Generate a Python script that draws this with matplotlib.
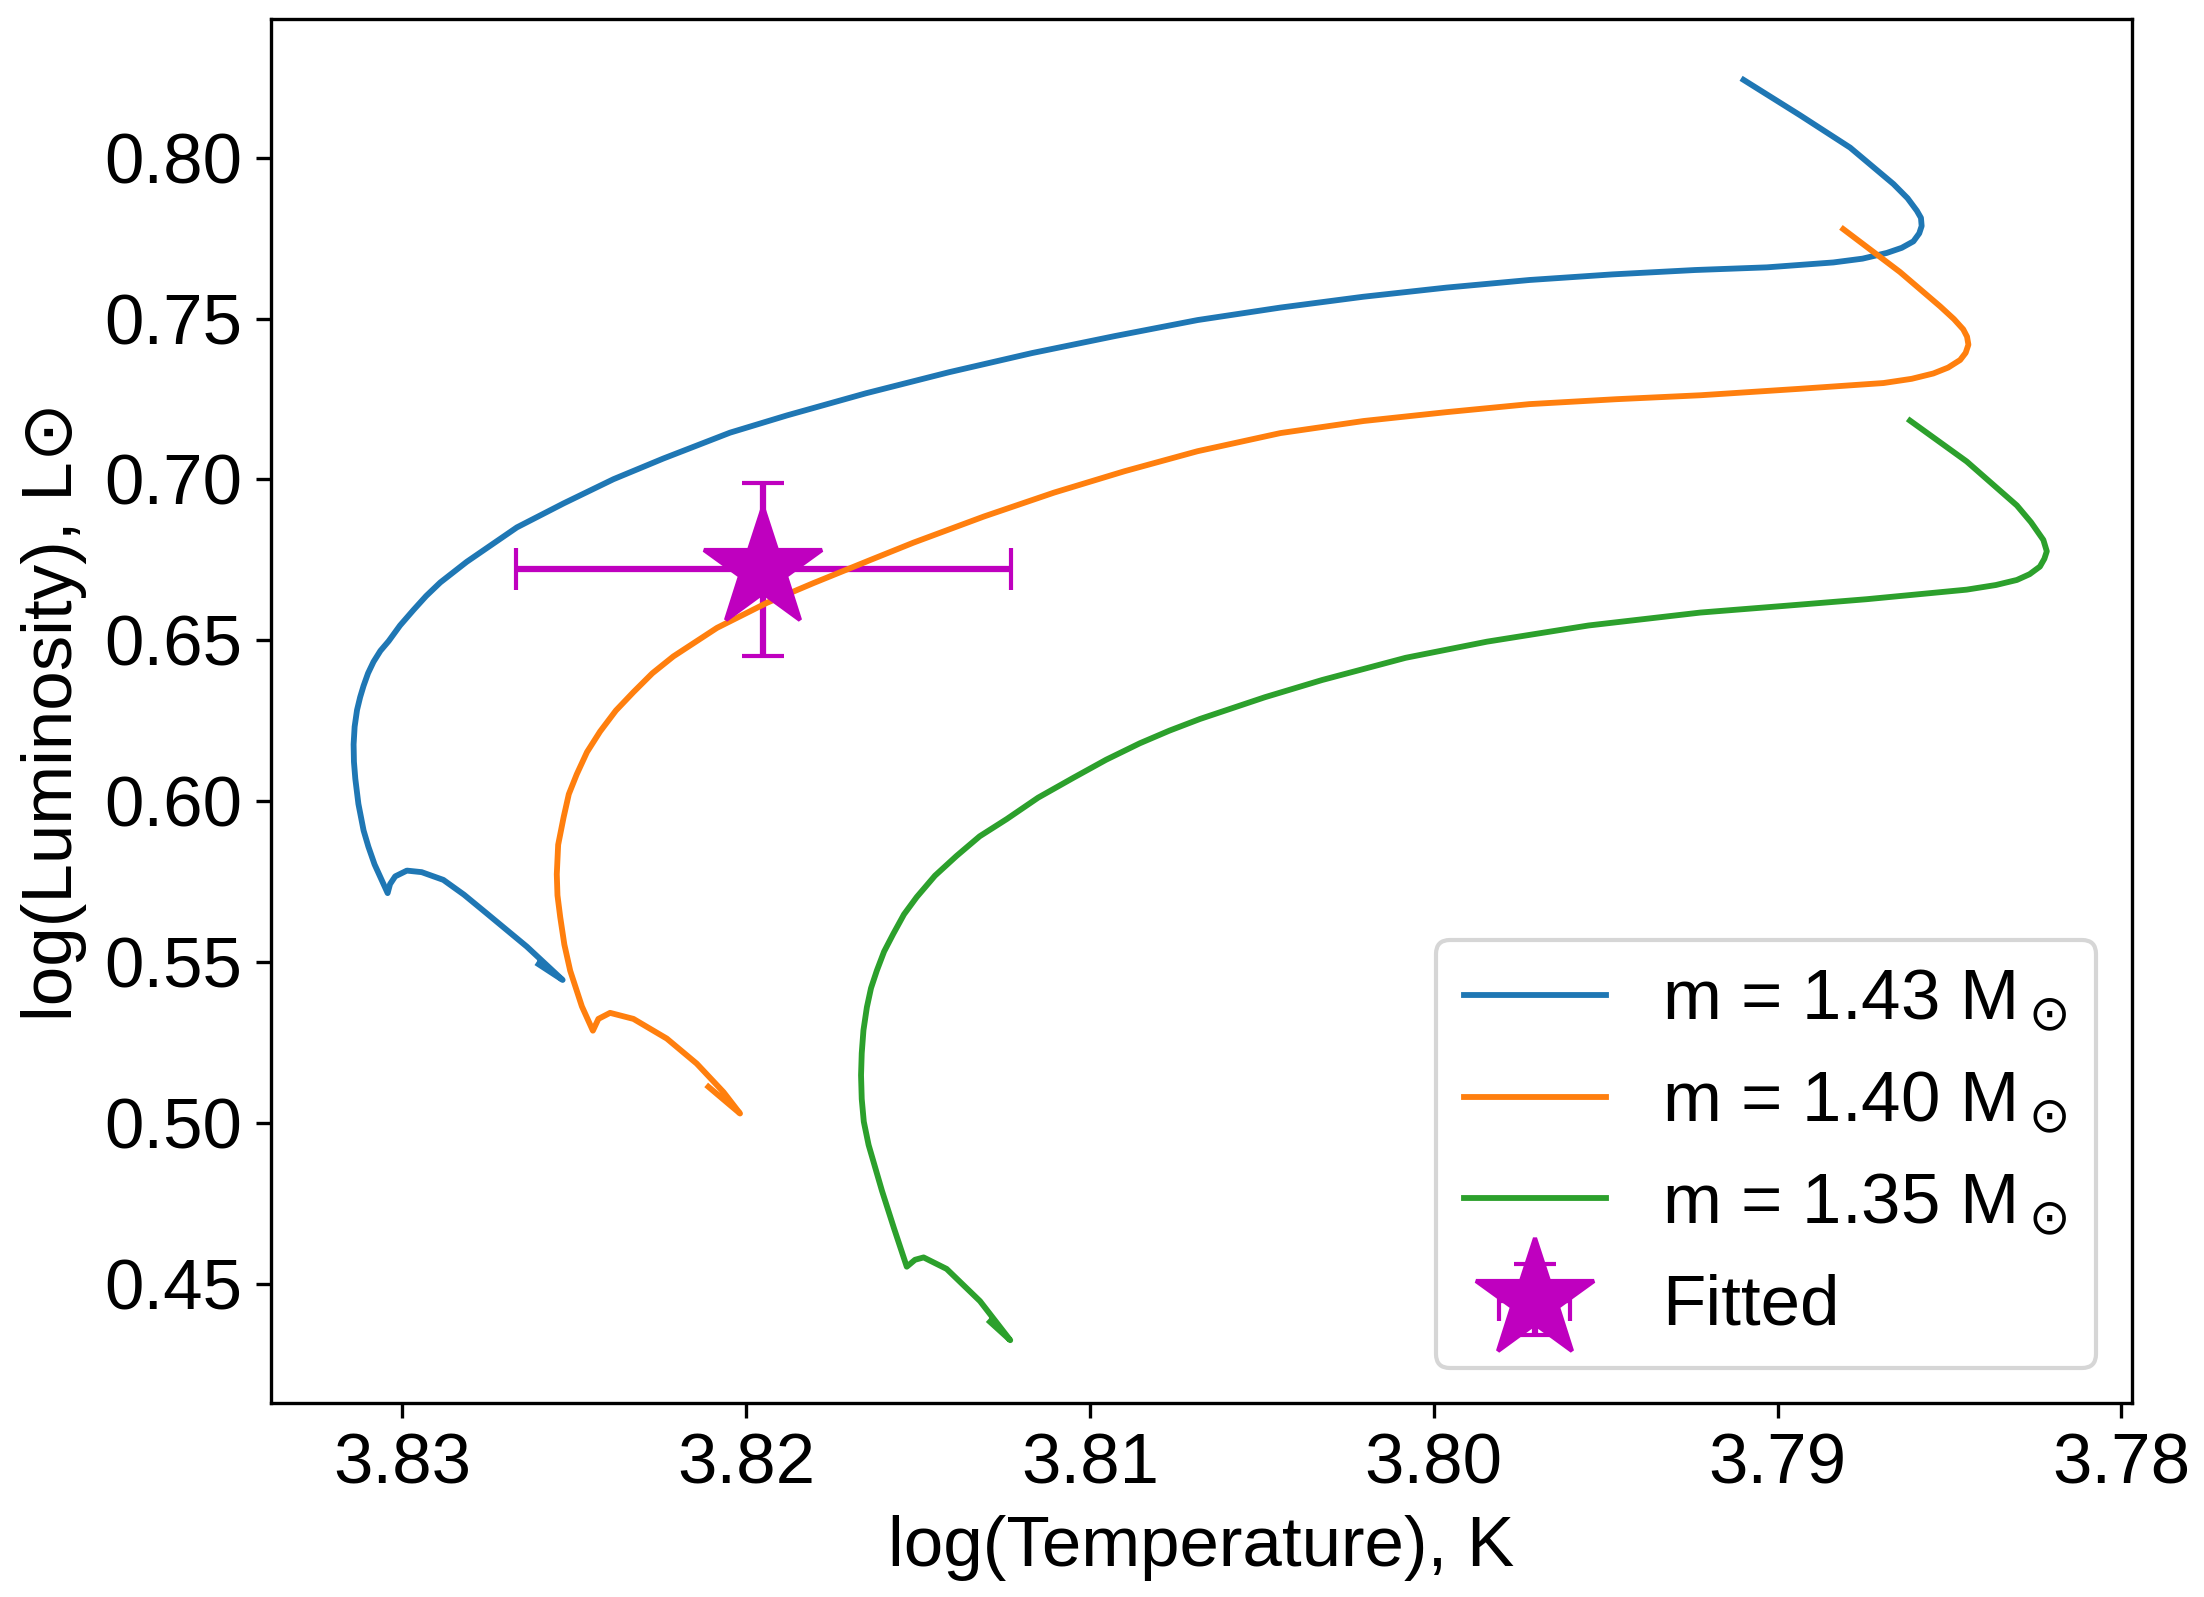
import matplotlib
matplotlib.use('Agg')
import matplotlib.pyplot as plt

plt.rcParams['font.family'] = ['Liberation Sans', 'DejaVu Sans']
plt.rcParams['font.size'] = 17

# evolutionary tracks: log(Teff), log(L)
teff_143 = [3.82604, 3.82534, 3.82638, 3.82755, 3.82821, 3.82881, 3.82944, 3.82987,
            3.83021, 3.83036, 3.83043, 3.83081, 3.83099, 3.83113, 3.83128, 3.83137,
            3.83141, 3.83142, 3.83139, 3.83132, 3.83123, 3.83113, 3.83100, 3.83084,
            3.83064, 3.83040, 3.83007, 3.82968, 3.82931, 3.82890, 3.82813, 3.82667,
            3.82531, 3.82386, 3.82241, 3.82047, 3.81881, 3.81652, 3.81410, 3.81169,
            3.80928, 3.80687, 3.80446, 3.80205, 3.79963, 3.79722, 3.79481, 3.79240,
            3.79031, 3.78838, 3.78753, 3.78682, 3.78639, 3.78605, 3.78588, 3.78581,
            3.78583, 3.78595, 3.78622, 3.78663, 3.78789, 3.78935, 3.79099]
lum_143 = [0.54945, 0.54457, 0.55491, 0.56526, 0.57106, 0.57565, 0.57805, 0.57853,
           0.57674, 0.57433, 0.57154, 0.58045, 0.58595, 0.59101, 0.59922, 0.60703,
           0.61231, 0.61773, 0.62323, 0.62842, 0.63239, 0.63593, 0.63982, 0.64340,
           0.64680, 0.64981, 0.65466, 0.65946, 0.66382, 0.66801, 0.67443, 0.68513,
           0.69259, 0.70010, 0.70652, 0.71455, 0.71992, 0.72677, 0.73332, 0.73926,
           0.74454, 0.74952, 0.75340, 0.75676, 0.75960, 0.76196, 0.76370, 0.76506,
           0.76589, 0.76741, 0.76859, 0.77038, 0.77195, 0.77396, 0.77645, 0.77872,
           0.78125, 0.78348, 0.78736, 0.79177, 0.80308, 0.81316, 0.82412]

teff_140 = [3.82110, 3.82018, 3.82066, 3.82144, 3.82231, 3.82328, 3.82396, 3.82430,
            3.82446, 3.82478, 3.82512, 3.82529, 3.82541, 3.82549, 3.82551, 3.82547,
            3.82531, 3.82516, 3.82493, 3.82463, 3.82425, 3.82379, 3.82328, 3.82273,
            3.82212, 3.82085, 3.81940, 3.81805, 3.81639, 3.81513, 3.81308, 3.81104,
            3.80899, 3.80687, 3.80446, 3.80204, 3.79963, 3.79722, 3.79469, 3.79225,
            3.78935, 3.78692, 3.78610, 3.78547, 3.78504, 3.78469, 3.78453, 3.78445,
            3.78449, 3.78460, 3.78487, 3.78527, 3.78644, 3.78809]
lum_140 = [0.51139, 0.50309, 0.50973, 0.51859, 0.52636, 0.53247, 0.53435, 0.53247,
           0.52881, 0.53636, 0.54745, 0.55557, 0.56408, 0.57084, 0.57739, 0.58656,
           0.59516, 0.60227, 0.60843, 0.61537, 0.62174, 0.62825, 0.63397, 0.63982,
           0.64505, 0.65392, 0.66169, 0.66780, 0.67500, 0.68041, 0.68853, 0.69595,
           0.70259, 0.70879, 0.71442, 0.71817, 0.72092, 0.72341, 0.72494, 0.72616,
           0.72817, 0.72996, 0.73127, 0.73293, 0.73476, 0.73712, 0.73934, 0.74188,
           0.74436, 0.74663, 0.74982, 0.75375, 0.76444, 0.77776]

teff_135 = [3.81291, 3.81232, 3.81320, 3.81417, 3.81484, 3.81509, 3.81533, 3.81570,
            3.81605, 3.81644, 3.81658, 3.81664, 3.81666, 3.81664, 3.81659, 3.81649,
            3.81637, 3.81620, 3.81599, 3.81572, 3.81541, 3.81504, 3.81451, 3.81388,
            3.81321, 3.81242, 3.81151, 3.81048, 3.80953, 3.80855, 3.80769, 3.80680,
            3.80491, 3.80325, 3.80082, 3.79845, 3.79550, 3.79225, 3.78978, 3.78741,
            3.78450, 3.78365, 3.78304, 3.78267, 3.78237, 3.78224, 3.78217, 3.78227,
            3.78263, 3.78304, 3.78450, 3.78615]
lum_135 = [0.43840, 0.43268, 0.44482, 0.45482, 0.45839, 0.45766, 0.45551, 0.46739,
           0.47904, 0.49332, 0.50056, 0.50759, 0.51497, 0.52182, 0.52894, 0.53610,
           0.54203, 0.54749, 0.55338, 0.55893, 0.56495, 0.57032, 0.57695, 0.58311,
           0.58918, 0.59455, 0.60118, 0.60738, 0.61297, 0.61808, 0.62200, 0.62563,
           0.63239, 0.63772, 0.64462, 0.64964, 0.65466, 0.65867, 0.66077, 0.66282,
           0.66579, 0.66723, 0.66880, 0.67059, 0.67295, 0.67539, 0.67771, 0.68124,
           0.68674, 0.69194, 0.70560, 0.71830]

# fitted point
teff_fit = 3.8195
teff_err = 0.0072
lum_fit = 0.6721
lum_err = 0.0269

fig = plt.figure(figsize=(2204 / 300, 1597 / 300), dpi=300)
ax = fig.add_axes([0.1230, 0.1212, 0.8442, 0.8672])

# errorbar first so the tracks sit on top of the star
ax.errorbar(teff_fit, lum_fit, xerr=teff_err, yerr=lum_err, fmt='m*',
            markersize=30, capsize=5, label='Fitted')
ax.plot(teff_143, lum_143, color='tab:blue', lw=1.4, label=r'm = 1.43 M$_\odot$')
ax.plot(teff_140, lum_140, color='tab:orange', lw=1.4, label=r'm = 1.40 M$_\odot$')
ax.plot(teff_135, lum_135, color='tab:green', lw=1.4, label=r'm = 1.35 M$_\odot$')

ax.set_xlim(3.83382, 3.7797)
ax.set_ylim(0.41304, 0.84317)
ax.set_xticks([3.83, 3.82, 3.81, 3.80, 3.79, 3.78])
ax.set_yticks([0.45, 0.50, 0.55, 0.60, 0.65, 0.70, 0.75, 0.80])

ax.set_xlabel('log(Temperature), K')
ax.set_ylabel('log(Luminosity), L\u2299')
ax.legend(loc='lower right')

fig.savefig('out.png', dpi=300)
